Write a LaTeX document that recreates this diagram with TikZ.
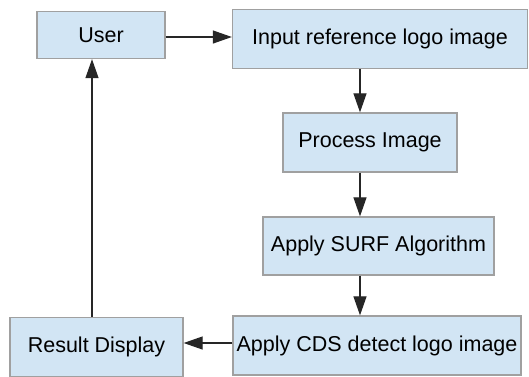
\documentclass[tikz,border=0pt]{standalone}
\usepackage{fontspec}
\setmainfont{Liberation Sans}
\usetikzlibrary{arrows.meta}
\definecolor{boxfill}{HTML}{D2E5F4}
\definecolor{boxdraw}{HTML}{A0A0A0}
\tikzset{
  stepbox/.style={draw=boxdraw, fill=boxfill, line width=1.3pt, inner sep=0pt, font=\fontsize{21.5}{25}\selectfont},
  conn/.style={line width=1.2pt, draw=black!85, -{Triangle[length=19pt,width=13pt]}}
}
\begin{document}
\begin{tikzpicture}[x=1pt,y=-1pt]
\useasboundingbox (0,0) rectangle (529,376);
\node[stepbox, minimum width=128pt, minimum height=47pt] (user) at (101,35) {User};
\node[stepbox, minimum width=295pt, minimum height=59pt] (input) at (380,39) {Input reference logo image};
\node[stepbox, minimum width=174pt, minimum height=59pt] (proc) at (370,142.5) {Process Image};
\node[stepbox, minimum width=231pt, minimum height=58pt] (surf) at (378.5,246) {Apply SURF Algorithm};
\node[stepbox, minimum width=288pt, minimum height=59pt] (cds) at (377,345.5) {Apply CDS detect logo image};
\node[stepbox, minimum width=173pt, minimum height=59pt] (res) at (96.5,347) {Result Display};
\coordinate (ax) at (360,0);
\coordinate (bx) at (92,0);
\coordinate (ay) at (0,37);
\coordinate (cy) at (0,343);
\draw[conn] (user.east |- ay) -- (input.west |- ay);
\draw[conn] (input.south -| ax) -- (proc.north -| ax);
\draw[conn] (proc.south -| ax) -- (surf.north -| ax);
\draw[conn] (surf.south -| ax) -- (cds.north -| ax);
\draw[conn] (cds.west |- cy) -- (res.east |- cy);
\draw[conn] (res.north -| bx) -- (user.south -| bx);
\end{tikzpicture}
\end{document}
